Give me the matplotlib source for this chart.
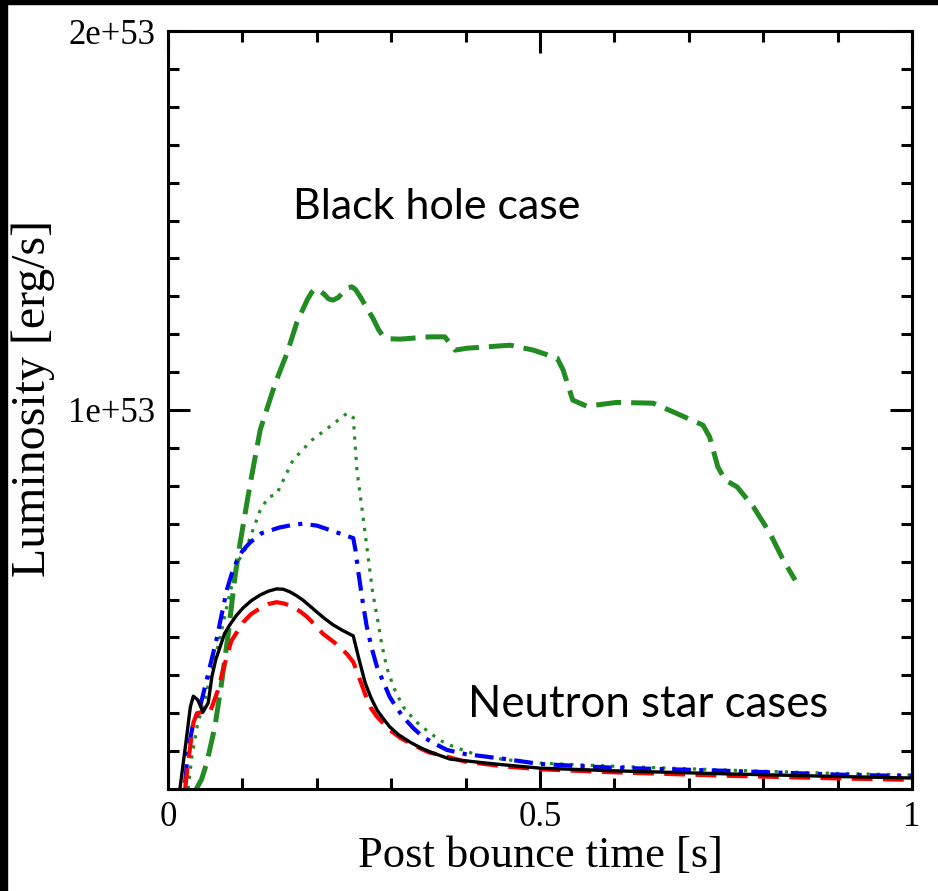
import matplotlib
matplotlib.use("Agg")
import numpy as np
import matplotlib.pyplot as plt
from matplotlib.patches import Rectangle
from matplotlib.ticker import MultipleLocator, FixedLocator

# luminosity in units of 1e53 erg/s, time in s after bounce
t_black = [0.016, 0.025, 0.030, 0.034, 0.040, 0.047, 0.054, 0.059, 0.064, 0.070,
           0.076, 0.083, 0.092, 0.101, 0.112, 0.124, 0.135, 0.146, 0.155, 0.164,
           0.172, 0.181, 0.190, 0.200, 0.211, 0.222, 0.235, 0.249, 0.252, 0.256,
           0.265, 0.273, 0.281, 0.290, 0.298, 0.310, 0.325, 0.340, 0.356, 0.379,
           0.42, 0.45, 0.5, 0.6, 0.75, 0.9, 1.0]
L_black = [0.0, 0.137, 0.216, 0.245, 0.235, 0.203, 0.227, 0.296, 0.340, 0.375,
           0.410, 0.433, 0.458, 0.478, 0.497, 0.512, 0.522, 0.528, 0.527, 0.520,
           0.511, 0.499, 0.484, 0.467, 0.449, 0.433, 0.418, 0.404, 0.380, 0.348,
           0.280, 0.240, 0.208, 0.184, 0.164, 0.143, 0.124, 0.108, 0.095, 0.079,
           0.070, 0.064, 0.055, 0.048, 0.040, 0.033, 0.029]

t_red = [0.023, 0.027, 0.034, 0.039, 0.050, 0.056, 0.067, 0.074, 0.085, 0.101,
         0.112, 0.124, 0.135, 0.146, 0.157, 0.168, 0.178, 0.187, 0.198, 0.208,
         0.220, 0.231, 0.241, 0.249, 0.254, 0.258, 0.265, 0.272, 0.280, 0.289,
         0.300, 0.312, 0.335, 0.350, 0.370, 0.40, 0.45, 0.5, 0.6, 0.75, 0.9, 1.0]
L_red = [0.0, 0.07, 0.174, 0.200, 0.205, 0.200, 0.260, 0.314, 0.390, 0.440,
         0.462, 0.477, 0.488, 0.493, 0.489, 0.480, 0.468, 0.454, 0.432, 0.410,
         0.392, 0.375, 0.355, 0.335, 0.310, 0.288, 0.250, 0.216, 0.193, 0.174,
         0.153, 0.135, 0.111, 0.097, 0.088, 0.072, 0.060, 0.052, 0.044, 0.035,
         0.028, 0.024]

t_blue = [0.023, 0.027, 0.034, 0.043, 0.052, 0.065, 0.079, 0.086, 0.093, 0.100,
          0.110, 0.126, 0.150, 0.168, 0.181, 0.200, 0.218, 0.249, 0.252, 0.256,
          0.262, 0.267, 0.274, 0.281, 0.290, 0.298, 0.307, 0.316, 0.330, 0.343,
          0.360, 0.375, 0.40, 0.45, 0.5, 0.6, 0.75, 0.9, 1.0]
L_blue = [0.016, 0.103, 0.174, 0.216, 0.288, 0.393, 0.525, 0.570, 0.604, 0.628,
          0.650, 0.675, 0.690, 0.697, 0.700, 0.695, 0.683, 0.662, 0.630, 0.570,
          0.490, 0.430, 0.370, 0.322, 0.280, 0.243, 0.215, 0.190, 0.160, 0.137,
          0.118, 0.103, 0.092, 0.080, 0.066, 0.056, 0.048, 0.038, 0.034]

t_gdot = [0.027, 0.032, 0.040, 0.050, 0.060, 0.070, 0.080, 0.093, 0.106, 0.124,
          0.135, 0.146, 0.168, 0.193, 0.222, 0.241, 0.249, 0.254, 0.261, 0.270,
          0.275, 0.281, 0.287, 0.294, 0.304, 0.316, 0.333, 0.352, 0.366, 0.380,
          0.40, 0.424, 0.49, 0.6, 0.75, 0.9, 1.0]
L_gdot = [0.0, 0.084, 0.174, 0.240, 0.320, 0.400, 0.490, 0.596, 0.640, 0.736,
          0.770, 0.778, 0.868, 0.920, 0.963, 0.992, 0.980, 0.840, 0.736, 0.596,
          0.520, 0.455, 0.385, 0.320, 0.265, 0.217, 0.178, 0.148, 0.128, 0.115,
          0.100, 0.085, 0.069, 0.060, 0.050, 0.041, 0.037]

t_bh = [0.038, 0.045, 0.052, 0.063, 0.072, 0.081, 0.090, 0.097, 0.110, 0.124,
        0.144, 0.160, 0.173, 0.187, 0.193, 0.198, 0.204, 0.210, 0.216, 0.222,
        0.229, 0.235, 0.241, 0.247, 0.252, 0.258, 0.267, 0.276, 0.283, 0.289,
        0.298, 0.312, 0.352, 0.372, 0.386, 0.402, 0.460, 0.491, 0.523, 0.531,
        0.544, 0.563, 0.603, 0.652, 0.679, 0.719, 0.728, 0.739, 0.749, 0.765,
        0.787, 0.809, 0.827, 0.843]
L_bh = [0.0, 0.025, 0.068, 0.164, 0.280, 0.410, 0.560, 0.650, 0.800, 0.948,
        1.070, 1.150, 1.230, 1.290, 1.310, 1.320, 1.315, 1.305, 1.293, 1.290,
        1.297, 1.310, 1.322, 1.325, 1.318, 1.300, 1.270, 1.240, 1.212, 1.195,
        1.188, 1.187, 1.193, 1.193, 1.158, 1.163, 1.171, 1.158, 1.137, 1.106,
        1.026, 1.010, 1.020, 1.018, 0.995, 0.960, 0.929, 0.850, 0.815, 0.797,
        0.744, 0.675, 0.604, 0.551]

green = "#228B22"

plt.rcParams["font.family"] = "Liberation Serif"

fig = plt.figure(figsize=(9.38, 8.91), dpi=100)
ax = fig.add_axes([168 / 938, 102 / 891, 744 / 938, 758 / 891])

ax.plot(t_bh, L_bh, color=green, lw=3.6, linestyle=(0, (5, 2)))
ax.plot(t_gdot, L_gdot, color=green, lw=2.3, linestyle=(0, (1, 2.2)))
ax.plot(t_blue, L_blue, color="#0000FF", lw=3.0, linestyle=(0, (4.5, 2, 1, 2)))
ax.plot(t_red, L_red, color="#FF0000", lw=3.0, linestyle=(0, (5, 2.5)))
ax.plot(t_black, L_black, color="black", lw=2.4)

ax.set_xlim(0, 1)
ax.set_ylim(0, 2)

ax.xaxis.set_major_locator(FixedLocator([0, 0.5, 1]))
ax.xaxis.set_minor_locator(MultipleLocator(0.1))
ax.yaxis.set_major_locator(FixedLocator([0, 1, 2]))
ax.yaxis.set_minor_locator(MultipleLocator(0.1))
ax.set_xticklabels(["0", "0.5", "1"])
ax.set_yticklabels(["", "1e+53", "2e+53"])

ax.tick_params(which="both", direction="in", top=True, right=True, width=2.2)
ax.tick_params(which="major", length=16, labelsize=25, pad=9)
ax.tick_params(which="minor", length=8)
for s in ax.spines.values():
    s.set_linewidth(2.2)

ax.set_xlabel("Post bounce time [s]", fontsize=32)
ax.set_ylabel("Luminosity [erg/s]", fontsize=34.5)
ax.xaxis.set_label_coords(0.5, -0.062)
ax.yaxis.set_label_coords(-0.152, 0.515)

ax.text(0.168, 1.536, "Black hole case", fontsize=31, family="Lato", va="center", ha="left")
ax.text(0.403, 0.224, "Neutron star cases", fontsize=31.5, family="Lato", va="center", ha="left")

# dark frame along the left and top edges
fig.patches.append(Rectangle((0, 0), 7 / 938, 1, transform=fig.transFigure, color="black", zorder=10))
fig.patches.append(Rectangle((0, 1 - 4 / 891), 1, 4 / 891, transform=fig.transFigure, color="black", zorder=10))

fig.savefig("out.png", dpi=100)
